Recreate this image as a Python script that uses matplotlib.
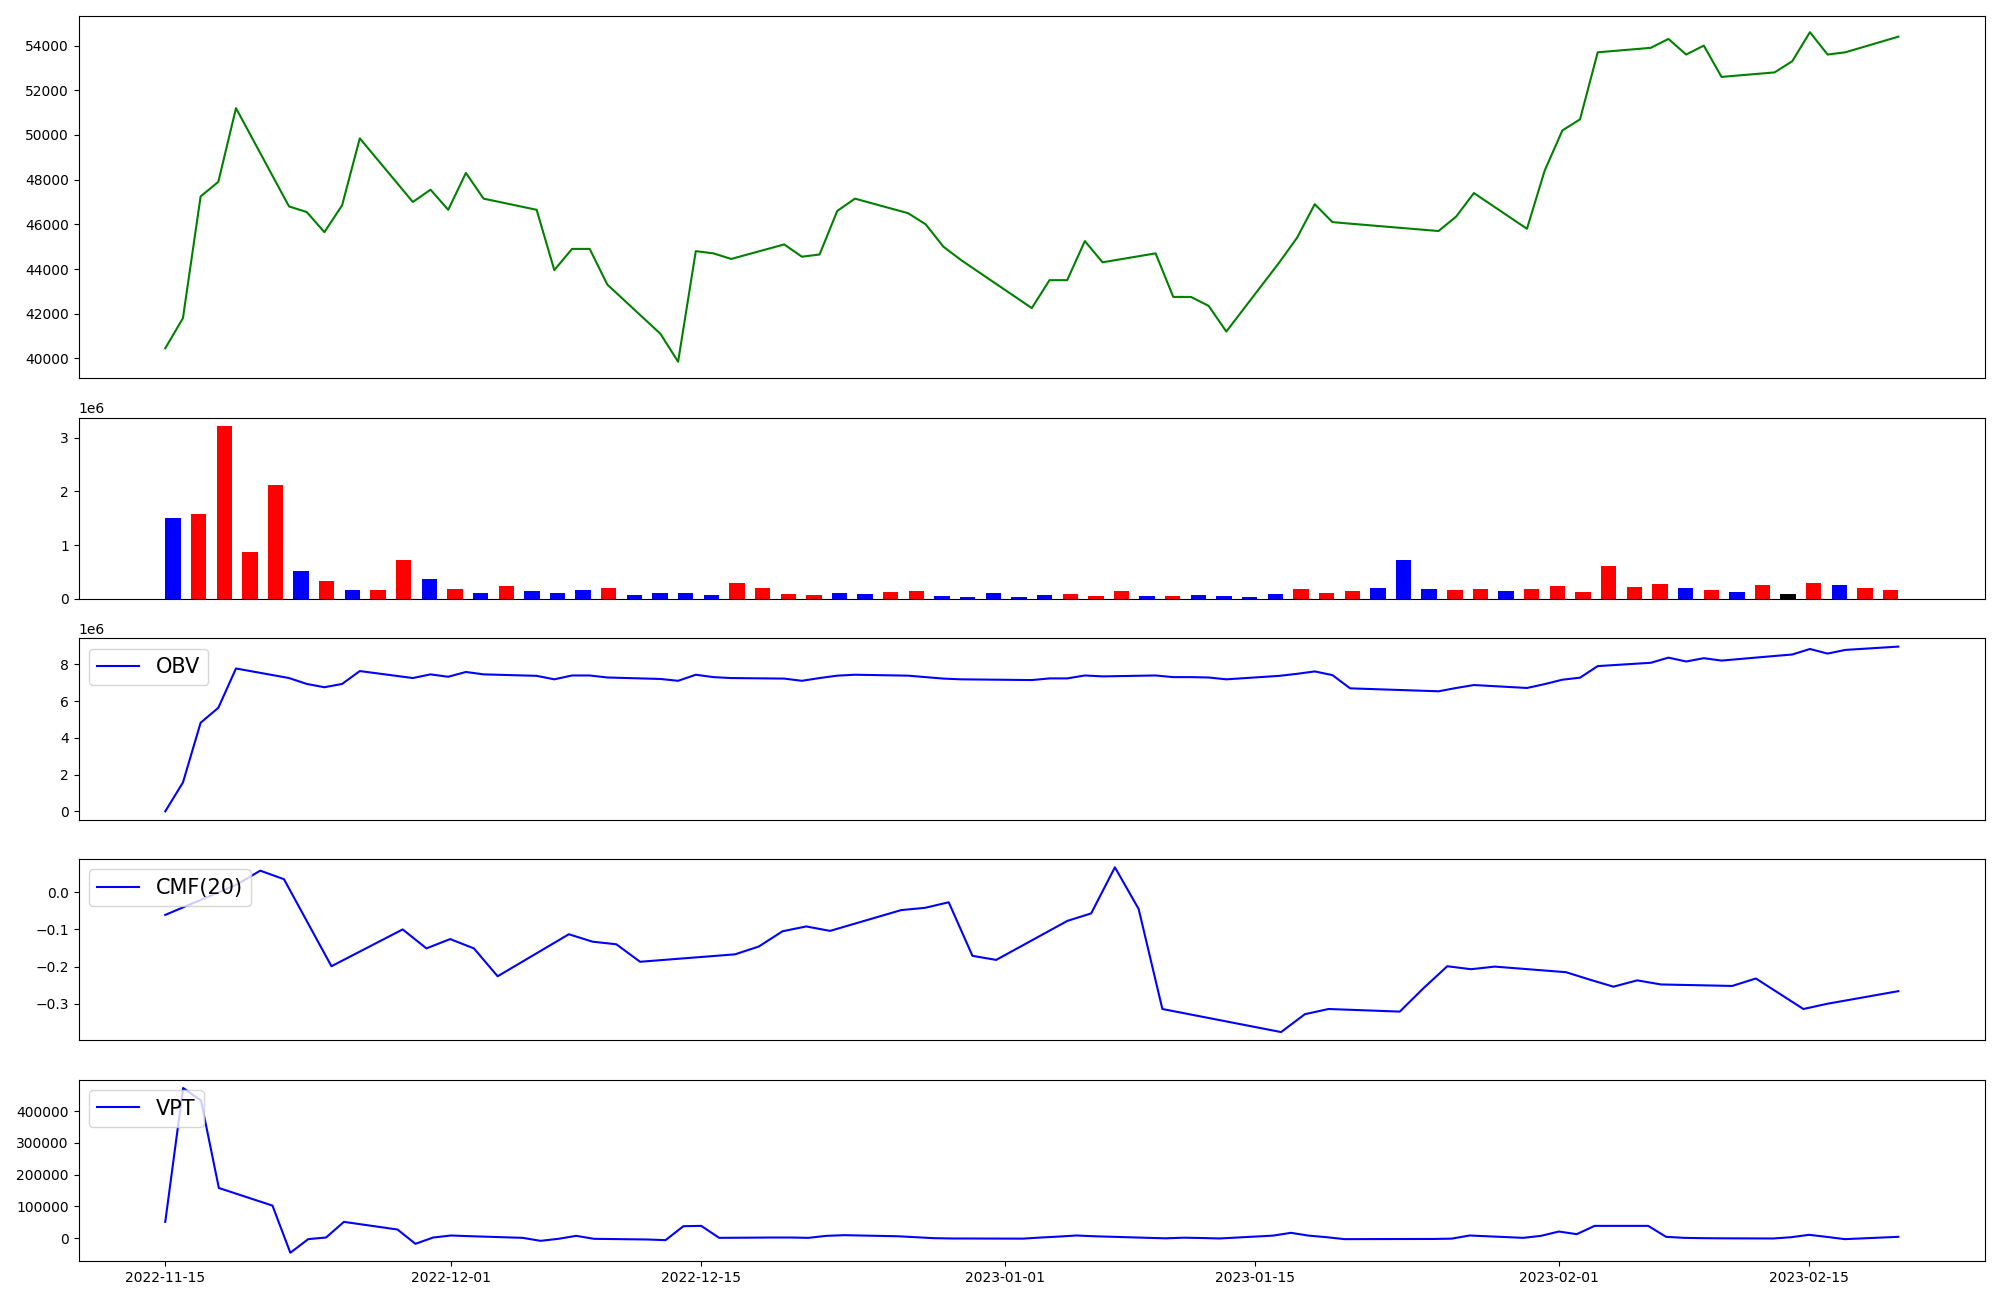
import matplotlib
matplotlib.use("Agg")
import matplotlib.pyplot as plt
import pandas as pd
from matplotlib.gridspec import GridSpec

dates = pd.to_datetime([
    "2022-11-14", "2022-11-15", "2022-11-16", "2022-11-17", "2022-11-18",
    "2022-11-21", "2022-11-22", "2022-11-23", "2022-11-24", "2022-11-25",
    "2022-11-28", "2022-11-29", "2022-11-30", "2022-12-01", "2022-12-02",
    "2022-12-05", "2022-12-06", "2022-12-07", "2022-12-08", "2022-12-09",
    "2022-12-12", "2022-12-13", "2022-12-14", "2022-12-15", "2022-12-16",
    "2022-12-19", "2022-12-20", "2022-12-21", "2022-12-22", "2022-12-23",
    "2022-12-26", "2022-12-27", "2022-12-28", "2022-12-29",
    "2023-01-02", "2023-01-03", "2023-01-04", "2023-01-05", "2023-01-06",
    "2023-01-09", "2023-01-10", "2023-01-11", "2023-01-12", "2023-01-13",
    "2023-01-16", "2023-01-17", "2023-01-18", "2023-01-19", "2023-01-20",
    "2023-01-25", "2023-01-26", "2023-01-27",
    "2023-01-30", "2023-01-31", "2023-02-01", "2023-02-02", "2023-02-03",
    "2023-02-06", "2023-02-07", "2023-02-08", "2023-02-09", "2023-02-10",
    "2023-02-13", "2023-02-14", "2023-02-15", "2023-02-16", "2023-02-17",
    "2023-02-20",
])

close = [
    40450, 41800, 47250, 47900, 51200,
    46800, 46550, 45650, 46850, 49850,
    47000, 47550, 46650, 48300, 47150,
    46650, 43950, 44900, 44900, 43300,
    41100, 39850, 44800, 44700, 44450,
    45100, 44550, 44650, 46600, 47150,
    46500, 46000, 45000, 44400,
    42250, 43500, 43500, 45250, 44300,
    44700, 42750, 42750, 42350, 41200,
    44300, 45400, 46900, 46100, 46030,
    45700, 46350, 47400,
    45800, 48400, 50200, 50700, 53700,
    53900, 54300, 53600, 54000, 52600,
    52800, 53300, 54600, 53600, 53700,
    54400,
]

volume_m = [
    1.51, 1.58, 3.21, 0.877, 2.117, 0.525, 0.34, 0.173, 0.173, 0.728,
    0.377, 0.191, 0.117, 0.247, 0.154, 0.117, 0.173, 0.21, 0.08, 0.117,
    0.117, 0.08, 0.30, 0.21, 0.099, 0.08, 0.117, 0.099, 0.136, 0.154,
    0.062, 0.043, 0.117, 0.043, 0.08, 0.099, 0.062, 0.154, 0.062, 0.062,
    0.08, 0.062, 0.043, 0.099, 0.191, 0.117, 0.154, 0.21, 0.728, 0.191,
    0.173, 0.191, 0.154, 0.191, 0.247, 0.136, 0.617, 0.228, 0.284, 0.21,
    0.173, 0.136, 0.265, 0.099, 0.30, 0.265, 0.21, 0.173,
]

bar_colors = [
    "blue", "red", "red", "red", "red", "blue", "red", "blue", "red", "red",
    "blue", "red", "blue", "red", "blue", "blue", "blue", "red", "blue", "blue",
    "blue", "blue", "red", "red", "red", "red", "blue", "blue", "red", "red",
    "blue", "blue", "blue", "blue", "blue", "red", "red", "red", "blue", "red",
    "blue", "blue", "blue", "blue", "red", "red", "red", "blue", "blue", "blue",
    "red", "red", "blue", "red", "red", "red", "red", "red", "red", "blue",
    "red", "blue", "red", "black", "red", "blue", "red", "red",
]

obv_m = [
    0.0, 1.57, 4.82, 5.63, 7.77,
    7.25, 6.93, 6.75, 6.93, 7.63,
    7.25, 7.45, 7.32, 7.58, 7.45,
    7.37, 7.18, 7.39, 7.39, 7.28,
    7.20, 7.10, 7.43, 7.30, 7.25,
    7.22, 7.10, 7.25, 7.38, 7.43,
    7.38, 7.30, 7.22, 7.18,
    7.14, 7.23, 7.23, 7.39, 7.34,
    7.39, 7.30, 7.30, 7.28, 7.18,
    7.37, 7.48, 7.61, 7.41, 6.69,
    6.53, 6.71, 6.87,
    6.71, 6.92, 7.16, 7.27, 7.90,
    8.08, 8.36, 8.15, 8.33, 8.20,
    8.45, 8.53, 8.83, 8.58, 8.78,
    8.96,
]

# CMF(20): first value on the 20th trading day
cmf = [
    -0.061, 0.020, 0.058, 0.035, -0.082,
    -0.199, -0.100, -0.151, -0.126, -0.151,
    -0.226, -0.113, -0.133, -0.140, -0.187,
    -0.167, -0.146, -0.105, -0.092, -0.104,
    -0.048, -0.042, -0.027, -0.171, -0.182,
    -0.077, -0.057, 0.067, -0.045, -0.314,
    -0.376, -0.328, -0.314,
    -0.321, -0.258, -0.199, -0.207, -0.200,
    -0.215, -0.235, -0.254, -0.237, -0.248,
    -0.252, -0.232, -0.273, -0.314, -0.300,
    -0.266,
]

# VPT: starts on the second trading day
vpt = [
    51300, 473000, 433500, 158000,
    102600, -46000, -3100, 2100, 51300,
    27200, -17800, 2100, 8400, 6300,
    1000, -8400, -2100, 7300, -2100,
    -4200, -6300, 37700, 38700, 1000,
    2000, 2000, 1000, 7300, 9400,
    6000, 3000, 0, -1000,
    -1500, 2000, 5000, 8400, 6000,
    1000, -500, 1500, 500, -1000,
    8000, 16800, 8000, 3000, -3100,
    -2500, -1500, 8400,
    1000, 7300, 20900, 12600, 38700,
    38700, 4200, 1000, 0, -500,
    -1000, 3000, 10500, 4000, -3100,
    4200,
]

fig = plt.figure(figsize=(20, 13), dpi=100)
gs = GridSpec(5, 1, figure=fig, height_ratios=[2, 1, 1, 1, 1], hspace=0.1815,
              left=0.0393, right=0.9925, top=0.9879, bottom=0.030)
ax_price = fig.add_subplot(gs[0])
ax_vol = fig.add_subplot(gs[1])
ax_obv = fig.add_subplot(gs[2])
ax_cmf = fig.add_subplot(gs[3])
ax_vpt = fig.add_subplot(gs[4])

ax_price.plot(dates, close, color="green")
ax_price.set_xticks([])

volume = [v * 1e6 for v in volume_m]
ax_vol.bar(range(len(volume)), volume, width=0.6, color=bar_colors)
ax_vol.set_xticks([])

obv = [v * 1e6 for v in obv_m]
ax_obv.plot(dates, obv, color="blue", label="OBV")
ax_obv.legend(loc="upper left", fontsize=15)
ax_obv.set_xticks([])

ax_cmf.plot(dates[19:], cmf, color="blue", label="CMF(20)")
ax_cmf.legend(loc="upper left", fontsize=15)
ax_cmf.set_xticks([])

ax_vpt.plot(dates[1:], vpt, color="blue", label="VPT")
ax_vpt.legend(loc="upper left", fontsize=15)

fig.savefig("out.png", dpi=100)
